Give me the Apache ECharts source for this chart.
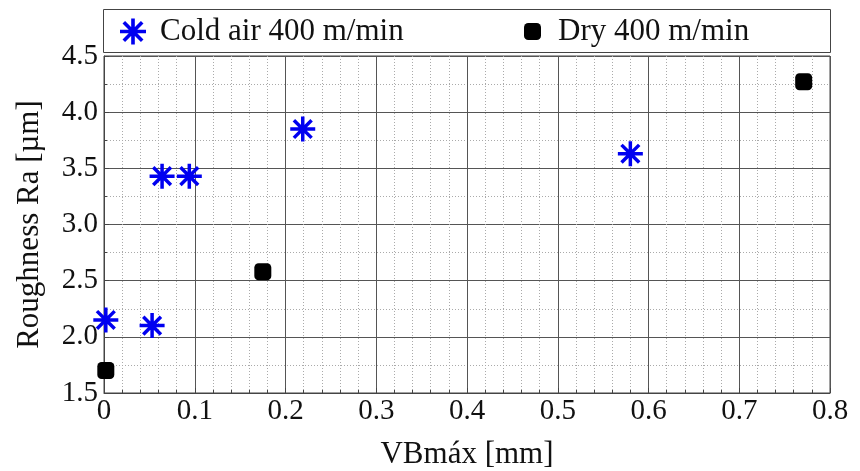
<!DOCTYPE html>
<html lang="en">
<head>
    <meta charset="UTF-8">
    <title>Roughness vs VBmax</title>
    <script src="https://cdn.jsdelivr.net/npm/echarts@6/dist/echarts.min.js"></script>
    <style>
        html, body { margin: 0; padding: 0; background: #fff; }
        #chart { width: 860px; height: 471px; }
    </style>
</head>
<body>
<div id="chart"></div>
<script>
    // data
    var coldX = [0.002, 0.053, 0.064, 0.094, 0.219, 0.58];
    var coldY = [2.15, 2.10, 3.43, 3.43, 3.85, 3.63];
    var dryX = [0.002, 0.175, 0.771];
    var dryY = [1.70, 2.58, 4.27];
    var seriesNames = ['Cold air 400 m/min', 'Dry 400 m/min'];

    var fontFam = '"Liberation Serif", "Times New Roman", serif';
    // 8-arm asterisk, like the matlab '*' marker
    var asterisk = 'path://M43 0L57 0L57 100L43 100Z M0 43L100 43L100 57L0 57Z ' +
        'M19.55 9.65L90.35 80.45L80.45 90.35L9.65 19.55Z ' +
        'M90.35 19.55L19.55 90.35L9.65 80.45L80.45 9.65Z';

    function pairs(xs, ys) {
        var out = [];
        for (var i = 0; i < xs.length; i++) out.push([xs[i], ys[i]]);
        return out;
    }

    var myChart = echarts.init(document.getElementById('chart'));
    var option = {
        animation: false,
        textStyle: { fontFamily: fontFam },
        grid: {
            left: 104, right: 30, top: 56, bottom: 78,
            outerBoundsMode: 'none',
            show: true, borderColor: '#444', borderWidth: 1
        },
        graphic: [{
            type: 'rect',
            shape: { x: 103.5, y: 9.5, width: 727, height: 43 },
            style: { fill: '#fff', stroke: '#444', lineWidth: 1 },
            z: 0
        }],
        legend: [
            {
                data: [seriesNames[0]],
                left: 115, top: 11,
                itemWidth: 26, itemHeight: 26,
                textStyle: { fontFamily: fontFam, fontSize: 31, color: '#111', padding: [0, 0, 0, 9] }
            },
            {
                data: [seriesNames[1]],
                left: 519, top: 11,
                itemWidth: 17, itemHeight: 17,
                textStyle: { fontFamily: fontFam, fontSize: 31, color: '#111', padding: [0, 0, 0, 12] }
            }
        ],
        xAxis: {
            type: 'value',
            min: 0, max: 0.8, interval: 0.1,
            name: 'VBmáx [mm]',
            nameLocation: 'middle',
            nameGap: 46,
            nameTextStyle: { fontFamily: fontFam, fontSize: 31, color: '#111' },
            axisLine: { show: true, lineStyle: { color: '#444' } },
            axisTick: { show: true, inside: true, length: 5, lineStyle: { color: '#444' } },
            minorTick: { show: true, splitNumber: 5, length: 3, lineStyle: { color: '#444' } },
            axisLabel: {
                fontFamily: fontFam, fontSize: 29, color: '#111', margin: 4,
                formatter: function (v) { return v === 0 ? '0' : v.toFixed(1); }
            },
            splitLine: { show: true, lineStyle: { color: '#555', width: 1 } },
            minorSplitLine: { show: true, lineStyle: { color: '#aaa', type: [1, 2], width: 1 } }
        },
        yAxis: {
            type: 'value',
            min: 1.5, max: 4.5, interval: 0.5,
            name: 'Roughness Ra [µm]',
            nameLocation: 'middle',
            nameGap: 59,
            nameTextStyle: { fontFamily: fontFam, fontSize: 31, color: '#111' },
            axisLine: { show: true, lineStyle: { color: '#444' } },
            axisTick: { show: true, inside: true, length: 5, lineStyle: { color: '#444' } },
            minorTick: { show: true, splitNumber: 2, length: 3, lineStyle: { color: '#444' } },
            axisLabel: {
                fontFamily: fontFam, fontSize: 29, color: '#111', margin: 6,
                formatter: function (v) { return v.toFixed(1); }
            },
            splitLine: { show: true, lineStyle: { color: '#555', width: 1 } },
            minorSplitLine: { show: true, lineStyle: { color: '#aaa', type: [1, 2], width: 1 } }
        },
        series: [
            {
                name: seriesNames[0],
                type: 'scatter',
                symbol: asterisk,
                symbolSize: 25,
                itemStyle: { color: '#0000f0', opacity: 1 },
                data: pairs(coldX, coldY),
                z: 3
            },
            {
                name: seriesNames[1],
                type: 'scatter',
                symbol: 'roundRect',
                symbolSize: 17,
                itemStyle: { color: '#000', opacity: 1 },
                data: pairs(dryX, dryY),
                z: 3
            }
        ]
    };
    myChart.setOption(option);
</script>
</body>
</html>
